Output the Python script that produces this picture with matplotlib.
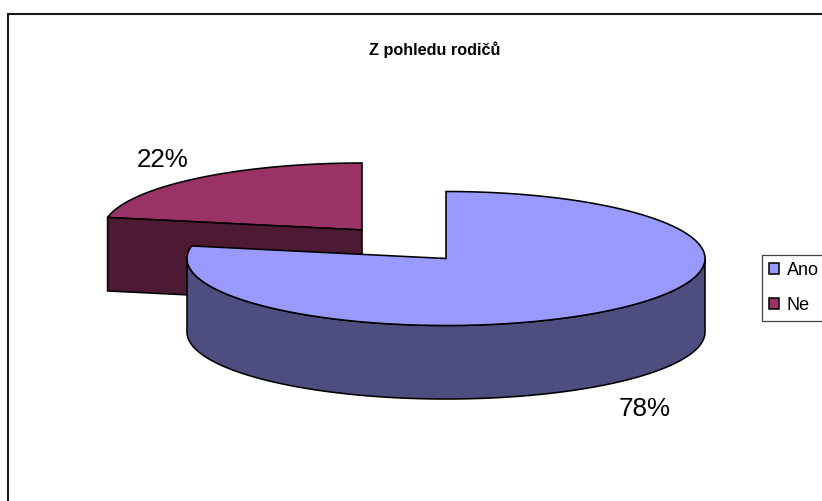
import numpy as np
import matplotlib
matplotlib.use("Agg")
import matplotlib.pyplot as plt
from matplotlib.patches import Polygon, Patch, Rectangle

plt.rcParams['font.family'] = ['Liberation Sans', 'DejaVu Sans']

title = "Z pohledu rodičů"
categories = ["Ano", "Ne"]
values = [78, 22]
value_labels = ["78%", "22%"]
top_colors = ["#9999FF", "#993366"]
side_colors = ["#4D4D80", "#4D1A33"]

W, H = 822, 501
fig = plt.figure(figsize=(W / 100, H / 100), dpi=100, facecolor="white")
ax = fig.add_axes([0, 0, 1, 1])
ax.set_xlim(0, W)
ax.set_ylim(H, 0)
ax.axis("off")

RX, RY, DEPTH = 259, 67, 73.5
CENTERS = [(446, 258.5), (362, 230)]
LW = 1.15
EC = "black"


def arc(c, a0, a1, n=200):
    t = np.radians(np.linspace(a0, a1, n))
    return np.column_stack([c[0] + RX * np.sin(t), c[1] - RY * np.cos(t)])


total = sum(values)
bounds = np.concatenate([[0], np.cumsum(values)]) / total * 360

# outer frame of the chart area
ax.add_patch(Rectangle((7.5, 14), 900, 600, fc="white", ec="#1a1a1a", lw=1.5, zorder=0))

# second slice (pulled out), drawn first
c = CENTERS[1]
a0, a1 = bounds[1], bounds[2]
top = arc(c, a0, a1)
ax.add_patch(Polygon(np.vstack([top, [c]]), closed=True, fc=top_colors[1], ec=EC, lw=LW, zorder=2))
p0 = top[0]
face = np.array([p0, c, (c[0], c[1] + DEPTH), (p0[0], p0[1] + DEPTH)])
ax.add_patch(Polygon(face, closed=True, fc=side_colors[1], ec=EC, lw=LW, zorder=2))

# first slice
c = CENTERS[0]
a0, a1 = bounds[0], bounds[1]
outer = arc(c, 90, 270)
wall = np.vstack([outer, (outer + [0, DEPTH])[::-1]])
ax.add_patch(Polygon(wall, closed=True, fc=side_colors[0], ec=EC, lw=LW, zorder=3))
top = arc(c, a0, a1, 400)
ax.add_patch(Polygon(np.vstack([top, [c]]), closed=True, fc=top_colors[0], ec=EC, lw=LW, zorder=4))

# data labels
ax.text(645, 409, value_labels[0], fontsize=18.7, ha="center", va="center", color="black", zorder=5)
ax.text(163, 160, value_labels[1], fontsize=18.7, ha="center", va="center", color="black", zorder=5)

# title
ax.text(434.5, 50, title, fontsize=11.7, fontweight="bold", ha="center", va="center", color="black")

# legend: frame runs past the right edge of the picture
ax.add_patch(Rectangle((762, 254.5), 120, 66, fc="white", ec="#404040", lw=0.9, zorder=6))
handles = [Patch(fc=top_colors[i], ec="black", lw=1.1) for i in range(2)]
leg = ax.legend(handles, categories, loc="upper left", bbox_to_anchor=(768.5, 262),
                bbox_transform=ax.transData, borderaxespad=0, borderpad=0, fontsize=13,
                frameon=False, handlelength=0.6, handleheight=0.6, handletextpad=0.42,
                labelspacing=0.98)
leg.set_zorder(7)

fig.savefig("out.png", dpi=100, facecolor="white")
